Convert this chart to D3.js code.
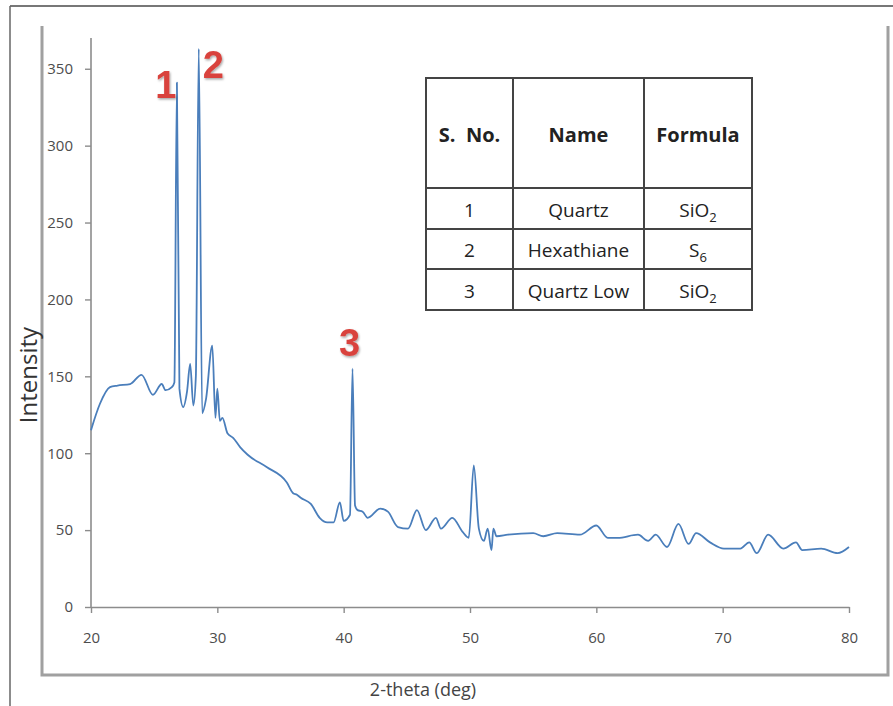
<!DOCTYPE html>
<html>
<head>
<meta charset="utf-8">
<script src="https://cdn.jsdelivr.net/npm/d3@7"></script>
<style>
  body { margin: 0; background: #fff; }
  svg { display: block; font-family: "Open Sans", "Liberation Sans", sans-serif; }
</style>
</head>
<body>
<svg id="chart" width="893" height="706"></svg>
<script>
// 2-theta (deg) values of the scan
const theta = [20, 20.7, 21.5, 22.1, 23.1, 24.0, 24.9, 25.6, 25.9, 26.4, 26.6, 26.8, 27.0, 27.3, 27.6, 27.85, 28.1, 28.3, 28.53, 28.8, 29.1, 29.6, 29.85, 30.0, 30.2, 30.4, 30.8, 31.25, 31.8, 32.4, 33.9, 35.5, 36.0, 36.3, 36.6, 37.4, 38.1, 38.7, 39.2, 39.7, 40.0, 40.5, 40.7, 40.9, 41.1, 41.5, 41.9, 42.9, 43.5, 44.3, 45.1, 45.8, 46.5, 47.3, 47.7, 48.6, 49.4, 49.9, 50.3, 50.7, 51.1, 51.4, 51.7, 51.85, 52.1, 53.0, 55.0, 55.8, 56.9, 58.7, 60.0, 60.9, 61.7, 63.3, 64.1, 64.7, 65.6, 66.5, 67.3, 67.9, 69.0, 70.1, 71.4, 72.1, 72.7, 73.6, 74.8, 75.8, 76.3, 77.8, 79.1, 80.0];
// Intensity values
const intensity = [115, 132, 143, 144, 145, 151, 138, 145, 141, 143, 146, 341, 142, 130, 140, 158, 131, 150, 363, 126, 135, 170, 123, 142, 121, 123, 113, 110, 104, 99, 91, 81, 74, 73, 71, 67, 58, 55, 55, 68, 56, 60, 155, 66, 63, 62, 58, 64, 62, 52, 51, 63, 50, 58, 51, 58, 49, 45, 92, 51, 43, 51, 37, 51, 46, 47, 48, 46, 48, 47, 53, 45, 45, 47, 43, 47, 39, 54, 41, 48, 42, 38, 38, 42, 35, 47, 38, 42, 37, 38, 35, 39];

const xTicks = [20, 30, 40, 50, 60, 70, 80];
const yTicks = [0, 50, 100, 150, 200, 250, 300, 350];

const peakNums = ["1", "2", "3"];
const peakTheta = [26.8, 28.53, 40.7];
const peakHeight = [341, 363, 155];

const tableHead = ["S.  No.", "Name", "Formula"];
const tableNo = ["1", "2", "3"];
const tableName = ["Quartz", "Hexathiane", "Quartz Low"];
const tableFormula = [["SiO", "2"], ["S", "6"], ["SiO", "2"]];

const svg = d3.select("#chart");
const grey = "#8c8c8c";

// outer page frame
svg.append("line").attr("x1", 10).attr("x2", 893).attr("y1", 6).attr("y2", 6)
  .attr("stroke", "#777").attr("stroke-width", 2);
svg.append("line").attr("x1", 10).attr("x2", 10).attr("y1", 6).attr("y2", 706)
  .attr("stroke", "#666").attr("stroke-width", 1.5);

// inner chart frame (open at the top)
svg.append("path")
  .attr("d", "M42,26 V675 H888 V26")
  .attr("fill", "none").attr("stroke", "#a0a0a0").attr("stroke-width", 3);

const margin = {left: 91, top: 38, right: 849, bottom: 607};
const x = d3.scaleLinear().domain([20, 80]).range([margin.left, margin.right]);
const y = d3.scaleLinear().domain([0, 370]).range([margin.bottom, margin.top]);

const xAxis = d3.axisBottom(x).tickValues(xTicks).tickSize(6).tickSizeOuter(0).tickPadding(19);
const yAxis = d3.axisLeft(y).tickValues(yTicks).tickSize(6).tickSizeOuter(0).tickPadding(12);

const gx = svg.append("g").attr("transform", `translate(0,${margin.bottom})`).call(xAxis);
const gy = svg.append("g").attr("transform", `translate(${margin.left},0)`).call(yAxis);

[gx, gy].forEach(g => {
  g.select(".domain").attr("stroke", grey).attr("stroke-width", 1.6);
  g.selectAll(".tick line").attr("stroke", grey).attr("stroke-width", 1.4);
  g.selectAll(".tick text").attr("fill", "#4d4d4d").style("font-size", "15px")
    .style("font-family", "'Open Sans', sans-serif");
});
gy.select(".domain").attr("d", `M0,${margin.bottom}V${margin.top}`);

// axis titles
svg.append("text")
  .attr("transform", "translate(37,375) rotate(-90)")
  .attr("text-anchor", "middle")
  .attr("fill", "#333").style("font-size", "24px")
  .text("Intensity");

svg.append("text")
  .attr("x", 423).attr("y", 696)
  .attr("text-anchor", "middle")
  .attr("fill", "#444").style("font-size", "18px")
  .text("2-theta (deg)");

// diffraction curve
const points = theta.map((t, i) => [t, intensity[i]]);
svg.append("path")
  .datum(points)
  .attr("fill", "none")
  .attr("stroke", "#4a7ebb")
  .attr("stroke-width", 1.8)
  .attr("stroke-linejoin", "round")
  .attr("d", d3.line().curve(d3.curveMonotoneX).x(d => x(d[0])).y(d => y(d[1])));

// peak numbers
const defs = svg.append("defs");
const f = defs.append("filter").attr("id", "shadow").attr("x", "-30%").attr("y", "-30%")
  .attr("width", "160%").attr("height", "160%");
f.append("feDropShadow").attr("dx", 1).attr("dy", 1.5).attr("stdDeviation", 1.2)
  .attr("flood-color", "#000").attr("flood-opacity", 0.35);

const labelDx = [-11, 14.5, -3];
const labelDy = [15, 29, -13];
svg.selectAll(".peak")
  .data(peakNums)
  .join("text")
  .attr("class", "peak")
  .attr("x", (d, i) => x(peakTheta[i]) + labelDx[i])
  .attr("y", (d, i) => y(peakHeight[i]) + labelDy[i])
  .attr("text-anchor", "middle")
  .attr("fill", "#d9433d")
  .attr("filter", "url(#shadow)")
  .style("font-size", "38px").style("font-weight", "bold")
  .style("font-family", "'Liberation Sans', sans-serif")
  .text(d => d);

// table of phases
const tX = [426, 513, 644, 752];
const tY = [78, 188, 229, 269, 310];
const ink = "#444";
const tg = svg.append("g");
tg.append("rect").attr("x", tX[0]).attr("y", tY[0])
  .attr("width", tX[3] - tX[0]).attr("height", tY[4] - tY[0])
  .attr("fill", "#fff").attr("stroke", ink).attr("stroke-width", 2);
tY.slice(1, 4).forEach(v => tg.append("line").attr("x1", tX[0]).attr("x2", tX[3])
  .attr("y1", v).attr("y2", v).attr("stroke", ink).attr("stroke-width", 2));
tX.slice(1, 3).forEach(v => tg.append("line").attr("x1", v).attr("x2", v)
  .attr("y1", tY[0]).attr("y2", tY[4]).attr("stroke", ink).attr("stroke-width", 2));

const colMid = [0, 1, 2].map(i => (tX[i] + tX[i + 1]) / 2);
tg.selectAll(".head").data(tableHead).join("text")
  .attr("x", (d, i) => colMid[i]).attr("y", 142)
  .attr("text-anchor", "middle").attr("fill", "#222")
  .style("font-size", "20px").style("font-weight", "bold")
  .style("white-space", "pre").attr("xml:space", "preserve")
  .text(d => d);

const rowMid = [0, 1, 2].map(i => (tY[i + 1] + tY[i + 2]) / 2 + 8);
tg.selectAll(".no").data(tableNo).join("text")
  .attr("x", colMid[0]).attr("y", (d, i) => rowMid[i])
  .attr("text-anchor", "middle").attr("fill", "#222").style("font-size", "19px")
  .text(d => d);
tg.selectAll(".name").data(tableName).join("text")
  .attr("x", colMid[1]).attr("y", (d, i) => rowMid[i])
  .attr("text-anchor", "middle").attr("fill", "#222").style("font-size", "19px")
  .text(d => d);
const ft = tg.selectAll(".formula").data(tableFormula).join("text")
  .attr("x", colMid[2]).attr("y", (d, i) => rowMid[i])
  .attr("text-anchor", "middle").attr("fill", "#222").style("font-size", "19px");
ft.append("tspan").text(d => d[0]);
ft.append("tspan").attr("dy", 5).style("font-size", "13px").text(d => d[1]);
</script>
</body>
</html>
